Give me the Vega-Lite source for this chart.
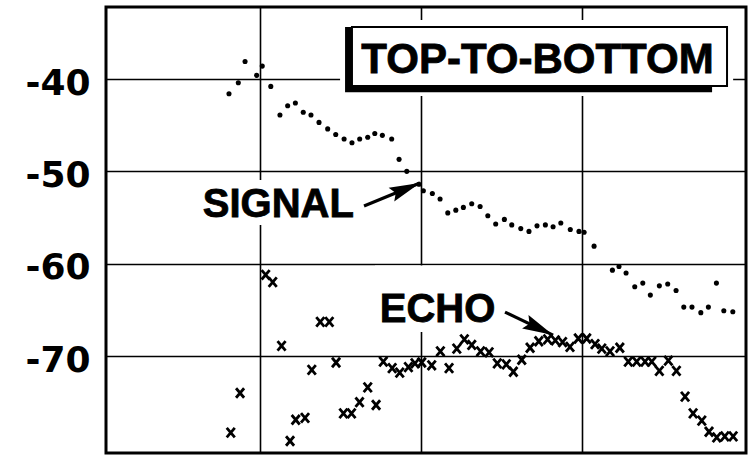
{
  "$schema": "https://vega.github.io/schema/vega-lite/v6.json",
  "width": 640,
  "height": 446,
  "autosize": "none",
  "padding": {"left": 106, "top": 7, "right": 9, "bottom": 2},
  "background": "white",
  "config": {
    "view": {"stroke": "black", "strokeWidth": 3},
    "axis": {"gridColor": "black", "gridOpacity": 1, "gridWidth": 1.6, "domain": false, "ticks": false, "title": null}
  },
  "datasets": {
    "signal": [
      {"x": 0.807, "y": -41.6}, {"x": 0.865, "y": -40.4}, {"x": 0.907, "y": -38.1}, {"x": 0.979, "y": -39.6},
      {"x": 1.014, "y": -38.6}, {"x": 1.067, "y": -40.8}, {"x": 1.124, "y": -43.9}, {"x": 1.172, "y": -42.9},
      {"x": 1.220, "y": -42.6}, {"x": 1.269, "y": -43.6}, {"x": 1.317, "y": -43.9}, {"x": 1.367, "y": -44.7},
      {"x": 1.421, "y": -45.4}, {"x": 1.471, "y": -46.0}, {"x": 1.523, "y": -46.5}, {"x": 1.572, "y": -46.9},
      {"x": 1.620, "y": -46.5}, {"x": 1.670, "y": -46.3}, {"x": 1.714, "y": -45.9}, {"x": 1.761, "y": -46.1},
      {"x": 1.819, "y": -46.5}, {"x": 1.865, "y": -48.7}, {"x": 1.913, "y": -50.0}, {"x": 1.989, "y": -51.4},
      {"x": 2.016, "y": -52.1}, {"x": 2.072, "y": -52.4}, {"x": 2.120, "y": -53.0}, {"x": 2.168, "y": -54.5},
      {"x": 2.218, "y": -54.2}, {"x": 2.265, "y": -53.9}, {"x": 2.317, "y": -53.5}, {"x": 2.369, "y": -53.8},
      {"x": 2.417, "y": -54.8}, {"x": 2.466, "y": -55.7}, {"x": 2.520, "y": -55.2}, {"x": 2.566, "y": -55.8},
      {"x": 2.622, "y": -56.2}, {"x": 2.673, "y": -56.5}, {"x": 2.723, "y": -55.9}, {"x": 2.775, "y": -55.8},
      {"x": 2.823, "y": -56.0}, {"x": 2.871, "y": -55.6}, {"x": 2.930, "y": -56.3}, {"x": 2.984, "y": -56.5},
      {"x": 3.016, "y": -56.6}, {"x": 3.078, "y": -58.1}, {"x": 3.192, "y": -60.7}, {"x": 3.233, "y": -60.3},
      {"x": 3.277, "y": -61.0}, {"x": 3.331, "y": -62.5}, {"x": 3.381, "y": -62.1}, {"x": 3.428, "y": -63.4},
      {"x": 3.484, "y": -62.4}, {"x": 3.536, "y": -62.2}, {"x": 3.588, "y": -62.9}, {"x": 3.636, "y": -64.7},
      {"x": 3.687, "y": -64.7}, {"x": 3.742, "y": -65.3}, {"x": 3.789, "y": -64.7}, {"x": 3.839, "y": -62.1},
      {"x": 3.885, "y": -65.1}, {"x": 3.941, "y": -65.2}
    ],
    "echo": [
      {"x": 0.818, "y": -78.3}, {"x": 0.876, "y": -74.0}, {"x": 1.035, "y": -61.2}, {"x": 1.079, "y": -62.0},
      {"x": 1.134, "y": -68.9}, {"x": 1.187, "y": -79.2}, {"x": 1.222, "y": -76.9}, {"x": 1.280, "y": -76.7},
      {"x": 1.322, "y": -71.5}, {"x": 1.375, "y": -66.3}, {"x": 1.431, "y": -66.3}, {"x": 1.473, "y": -70.7},
      {"x": 1.519, "y": -76.2}, {"x": 1.569, "y": -76.2}, {"x": 1.619, "y": -75.0}, {"x": 1.670, "y": -73.4},
      {"x": 1.722, "y": -75.3}, {"x": 1.767, "y": -70.6}, {"x": 1.822, "y": -71.3}, {"x": 1.869, "y": -71.8},
      {"x": 1.923, "y": -71.2}, {"x": 1.964, "y": -70.8}, {"x": 2.006, "y": -70.7}, {"x": 2.068, "y": -71.0},
      {"x": 2.122, "y": -69.5}, {"x": 2.176, "y": -71.3}, {"x": 2.224, "y": -69.2}, {"x": 2.271, "y": -68.2},
      {"x": 2.317, "y": -68.8}, {"x": 2.372, "y": -69.5}, {"x": 2.425, "y": -69.6}, {"x": 2.476, "y": -70.8},
      {"x": 2.532, "y": -70.9}, {"x": 2.576, "y": -71.7}, {"x": 2.628, "y": -70.4}, {"x": 2.680, "y": -69.1},
      {"x": 2.734, "y": -68.4}, {"x": 2.789, "y": -68.2}, {"x": 2.837, "y": -68.3}, {"x": 2.882, "y": -68.5},
      {"x": 2.928, "y": -69.0}, {"x": 2.980, "y": -68.1}, {"x": 3.032, "y": -68.1}, {"x": 3.084, "y": -68.7},
      {"x": 3.126, "y": -69.2}, {"x": 3.177, "y": -69.5}, {"x": 3.238, "y": -69.1}, {"x": 3.291, "y": -70.6},
      {"x": 3.343, "y": -70.6}, {"x": 3.395, "y": -70.6}, {"x": 3.437, "y": -70.6}, {"x": 3.484, "y": -71.6},
      {"x": 3.540, "y": -70.5}, {"x": 3.590, "y": -71.6}, {"x": 3.644, "y": -74.4}, {"x": 3.694, "y": -76.2},
      {"x": 3.748, "y": -77.0}, {"x": 3.793, "y": -78.2}, {"x": 3.841, "y": -78.8}, {"x": 3.891, "y": -78.7},
      {"x": 3.943, "y": -78.7}
    ],
    "masks": [
      {"x": 1.498, "x2": 3.943, "y": -33.61, "y2": -41.84},
      {"x": 0.614, "x2": 1.610, "y": -50.94, "y2": -55.81},
      {"x": 1.715, "x2": 2.493, "y": -60.2, "y2": -67.40}
    ],
    "shadow": [{"x": 1.529, "x2": 3.812, "y": -34.37, "y2": -41.42}],
    "box": [{"x": 1.572, "x2": 3.905, "y": -34.37, "y2": -40.76, "text": "TOP-TO-BOTTOM", "tx": 2.726, "ty": -39.32}],
    "labels": [
      {"text": "SIGNAL", "x": 1.114, "y": -54.91},
      {"text": "ECHO", "x": 2.104, "y": -66.29}
    ],
    "arrows": [
      {"x": 1.647, "y": -53.76, "x2": 1.995, "y2": -51.26, "angle": 67.7},
      {"x": 2.524, "y": -65.24, "x2": 2.823, "y2": -67.73, "angle": 115.6}
    ]
  },
  "layer": [
    {
      "data": {"name": "masks"},
      "mark": {"type": "rect", "fill": "white", "stroke": null},
      "encoding": {
        "x": {"field": "x", "type": "quantitative", "scale": {"domain": [0.042, 4.023], "nice": false, "zero": false},
              "axis": {"values": [1, 2, 3], "grid": true, "labels": false}},
        "x2": {"field": "x2"},
        "y": {"field": "y", "type": "quantitative", "scale": {"domain": [-80.5, -32.2], "nice": false, "zero": false},
              "axis": {"values": [-70, -60, -50, -40], "grid": true, "labelFont": "DejaVu Sans", "labelFontWeight": "bold",
                       "labelFontSize": 36, "labelColor": "black", "labelPadding": 16, "labelOffset": 4,
                       "labelExpr": "'-' + abs(datum.value)"}},
        "y2": {"field": "y2"}
      }
    },
    {
      "data": {"name": "shadow"},
      "mark": {"type": "rect", "fill": "black"},
      "encoding": {
        "x": {"field": "x", "type": "quantitative"}, "x2": {"field": "x2"},
        "y": {"field": "y", "type": "quantitative"}, "y2": {"field": "y2"}
      }
    },
    {
      "data": {"name": "box"},
      "mark": {"type": "rect", "fill": "white", "stroke": "black", "strokeWidth": 2},
      "encoding": {
        "x": {"field": "x", "type": "quantitative"}, "x2": {"field": "x2"},
        "y": {"field": "y", "type": "quantitative"}, "y2": {"field": "y2"}
      }
    },
    {
      "data": {"name": "box"},
      "mark": {"type": "text", "font": "Liberation Sans", "fontWeight": "bold", "fontSize": 42, "align": "center", "baseline": "alphabetic", "fill": "black", "stroke": "black", "strokeWidth": 0.8},
      "encoding": {
        "x": {"field": "tx", "type": "quantitative"},
        "y": {"field": "ty", "type": "quantitative"},
        "text": {"field": "text"}
      }
    },
    {
      "data": {"name": "signal"},
      "mark": {"type": "point", "shape": "circle", "filled": true, "color": "black", "size": 26, "opacity": 1},
      "encoding": {
        "x": {"field": "x", "type": "quantitative"},
        "y": {"field": "y", "type": "quantitative"}
      }
    },
    {
      "data": {"name": "echo"},
      "mark": {"type": "point", "shape": "M-0.85,-1L0.85,1M0.85,-1L-0.85,1", "filled": false, "stroke": "black", "strokeWidth": 2.8, "size": 90, "opacity": 1},
      "encoding": {
        "x": {"field": "x", "type": "quantitative"},
        "y": {"field": "y", "type": "quantitative"}
      }
    },
    {
      "data": {"name": "arrows"},
      "mark": {"type": "rule", "color": "black", "strokeWidth": 3.2},
      "encoding": {
        "x": {"field": "x", "type": "quantitative"}, "x2": {"field": "x2"},
        "y": {"field": "y", "type": "quantitative"}, "y2": {"field": "y2"}
      }
    },
    {
      "data": {"name": "arrows"},
      "mark": {"type": "point", "shape": "M0,0L0.24,1L0,0.85L-0.24,1Z", "filled": true, "color": "black", "size": 3800, "opacity": 1},
      "encoding": {
        "x": {"field": "x2", "type": "quantitative"},
        "y": {"field": "y2", "type": "quantitative"},
        "angle": {"field": "angle", "type": "quantitative", "scale": null}
      }
    },
    {
      "data": {"name": "labels"},
      "mark": {"type": "text", "font": "Liberation Sans", "fontWeight": "bold", "fontSize": 40, "align": "center", "baseline": "alphabetic", "fill": "black", "stroke": "black", "strokeWidth": 0.8},
      "encoding": {
        "x": {"field": "x", "type": "quantitative"},
        "y": {"field": "y", "type": "quantitative"},
        "text": {"field": "text"}
      }
    }
  ]
}
